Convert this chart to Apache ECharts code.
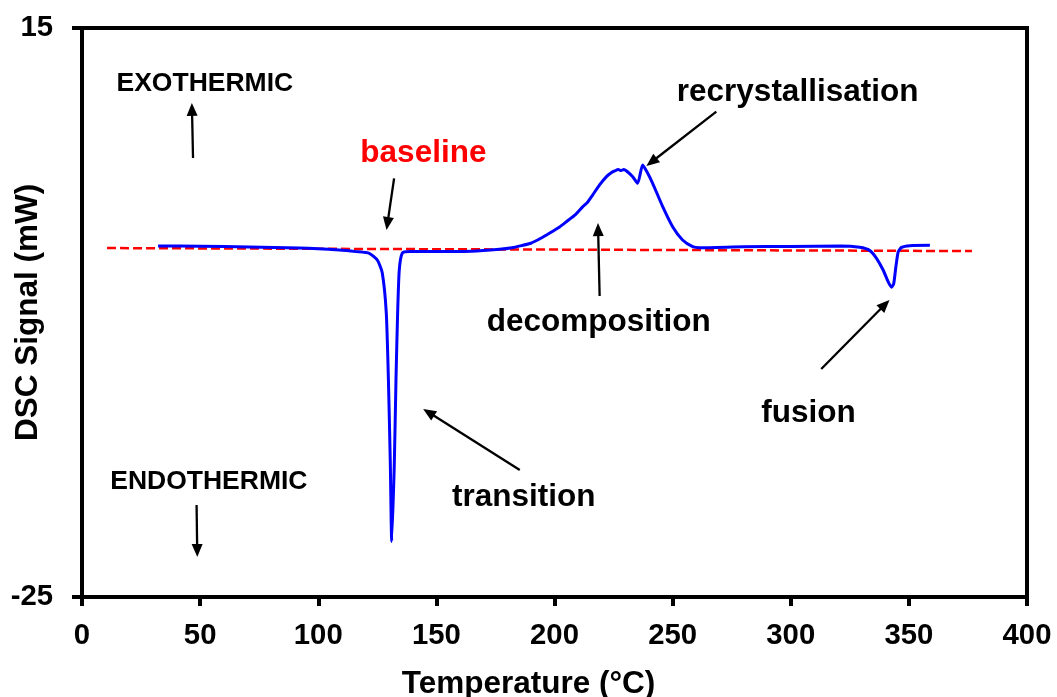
<!DOCTYPE html>
<html>
<head>
<meta charset="utf-8">
<script src="https://cdn.jsdelivr.net/npm/echarts@6/dist/echarts.min.js"></script>
<style>html,body{margin:0;padding:0;background:#fff}#c{width:1057px;height:697px}</style>
</head>
<body>
<div id="c"></div>
<script>
// DSC curve: [temperature °C, signal mW]
const dscCurve = [
  [32.2,-0.33],[50,-0.34],[70.8,-0.40],[92,-0.47],[108.9,-0.61],[116,-0.72],[121.6,-0.84],
  [125,-1.31],[127.1,-2.22],[128.8,-5.04],[129.7,-9.75],[130.5,-15.58],[131.1,-21.1],
  [132.2,-15.58],[132.9,-9.75],[133.6,-5.04],[134.3,-2.01],[135.6,-0.82],[138.6,-0.72],
  [151.3,-0.72],[165,-0.70],[176.7,-0.56],[182,-0.45],[186,-0.3],[190,-0.13],[194,0.2],
  [198,0.59],[202,1.0],[205,1.38],[209,1.9],[212,2.44],[214,2.75],[216,3.22],[219,3.95],
  [222,4.55],[224,4.82],[225.5,4.95],[227,5.05],[228.2,4.98],[229.3,5.06],[230.5,4.95],
  [233.1,4.55],[235.2,4.08],[237.3,5.37],[239.4,4.81],[241.5,4.1],[245.8,2.44],[250,1.03],
  [254.2,0.1],[258.5,-0.37],[261.4,-0.44],[280,-0.38],[300,-0.36],[320.8,-0.33],[329.2,-0.42],
  [333.5,-0.65],[336.3,-1.19],[339.1,-2.01],[341.2,-2.83],[342.7,-3.23],[343.6,-2.95],
  [344.5,-1.78],[345.5,-0.73],[346.9,-0.42],[350.4,-0.30],[358.9,-0.28]
];
// Baseline (dashed red)
const baselineLine = [[10.6,-0.47],[376.7,-0.68]];
// Axis ticks
const xTicks = [0,50,100,150,200,250,300,350,400];
const yTicks = [-25,15];
// Annotation labels
const labelTexts = ['EXOTHERMIC','ENDOTHERMIC','baseline','recrystallisation','decomposition','transition','fusion'];
const labelPos = [[52.0,11.06],[53.7,-16.92],[144.5,6.21],[302.9,10.5],[218.7,-5.67],[187.0,-18.0],[307.5,-12.07]];
const labelColors = ['#000','#000','#ff0000','#000','#000','#000','#000'];
const labelSizes = [26.5,26.5,31.5,31.5,31.5,31.5,31.5];
// Arrows: [tailX, tailY, tipX, tipY] in data units
const arrows = [
  [47.0,5.86,46.5,9.73],
  [48.5,-18.53,48.8,-22.19],
  [132.1,4.43,128.9,0.8],
  [268.5,9.12,238.9,5.3],
  [219.1,-3.84,218.4,1.29],
  [185.3,-16.07,144.4,-11.78],
  [312.9,-8.97,341.8,-4.12]
];

const FONT = '"Liberation Sans", Arial, Helvetica, sans-serif';
const chart = echarts.init(document.getElementById('c'));
chart.setOption({
  animation: false,
  backgroundColor: '#fff',
  grid: {left: 82, right: 30, top: 28, bottom: 100, containLabel: false, outerBoundsMode: 'none',
         show: true, borderColor: '#000', borderWidth: 4, backgroundColor: 'transparent'},
  xAxis: {
    type: 'value', min: 0, max: 400, interval: 50,
    name: 'Temperature (°C)', nameLocation: 'middle', nameGap: 71, nameMoveOverlap: false,
    nameTextStyle: {fontFamily: FONT, fontWeight: 'bold', fontSize: 31.5, color: '#000', padding: [0, 52, 0, 0]},
    axisLine: {show: true, onZero: false, lineStyle: {color: '#000', width: 4}},
    axisTick: {show: true, length: 9, lineStyle: {color: '#000', width: 4}, customValues: xTicks},
    axisLabel: {fontFamily: FONT, fontWeight: 'bold', fontSize: 29.3, color: '#000', margin: 24, customValues: xTicks},
    splitLine: {show: false}
  },
  yAxis: {
    type: 'value', min: -25, max: 15,
    name: 'DSC Signal (mW)', nameLocation: 'middle', nameGap: 38, nameMoveOverlap: false,
    nameTextStyle: {fontFamily: FONT, fontWeight: 'bold', fontSize: 31.5, color: '#000'},
    axisLine: {show: true, onZero: false, lineStyle: {color: '#000', width: 4}},
    axisTick: {show: true, length: 10, lineStyle: {color: '#000', width: 4}, customValues: yTicks},
    axisLabel: {fontFamily: FONT, fontWeight: 'bold', fontSize: 29.3, color: '#000', margin: 29, customValues: yTicks},
    splitLine: {show: false}
  },
  series: [
    {type: 'line', data: baselineLine, symbol: 'none', z: 2,
     lineStyle: {color: '#ff0000', width: 2.5, type: [9, 4]}},
    {type: 'line', data: dscCurve, symbol: 'none', smooth: 0.2, z: 3,
     lineStyle: {color: '#0000ff', width: 3}}
  ]
});

const g = [];
labelTexts.forEach((t, i) => {
  const p = chart.convertToPixel({gridIndex: 0}, labelPos[i]);
  g.push({type: 'text', x: p[0], y: p[1], z: 10,
    style: {text: t, fill: labelColors[i], font: 'bold ' + labelSizes[i] + 'px ' + FONT, align: 'center', verticalAlign: 'middle'}});
});
arrows.forEach(a => {
  const t = chart.convertToPixel({gridIndex: 0}, [a[0], a[1]]);
  const h = chart.convertToPixel({gridIndex: 0}, [a[2], a[3]]);
  const dx = h[0] - t[0], dy = h[1] - t[1];
  const len = Math.sqrt(dx*dx + dy*dy);
  const ux = dx/len, uy = dy/len, nx = -uy, ny = ux;
  const L = 13, W = 5.5;
  const bx = h[0] - L*ux, by = h[1] - L*uy;
  g.push({type: 'line', z: 10, shape: {x1: t[0], y1: t[1], x2: bx + 2*ux, y2: by + 2*uy}, style: {stroke: '#000', lineWidth: 2.3}});
  g.push({type: 'polygon', z: 10, shape: {points: [[h[0], h[1]], [bx + W*nx, by + W*ny], [bx - W*nx, by - W*ny]]}, style: {fill: '#000'}});
});
chart.setOption({graphic: g});
</script>
</body>
</html>
